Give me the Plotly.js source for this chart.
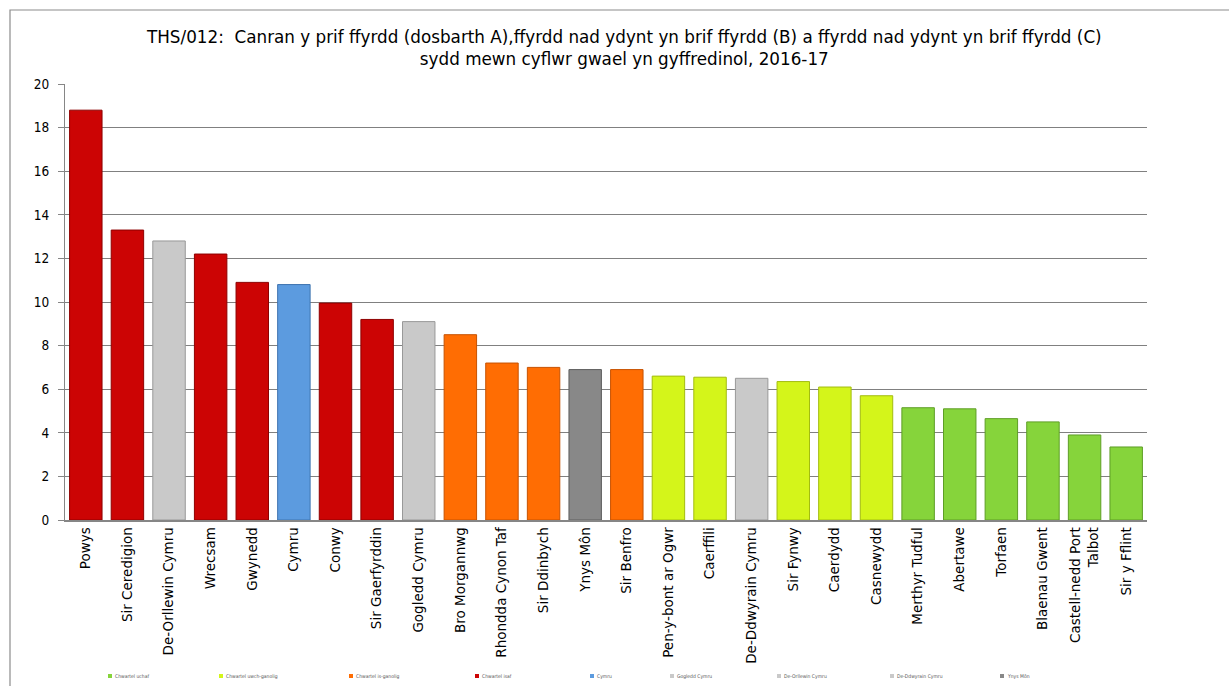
<!DOCTYPE html>
<html>
<head>
<meta charset="utf-8">
<script src="https://cdn.plot.ly/plotly-3.0.1.min.js"></script>
<style>
html,body{margin:0;padding:0;background:#fff;}
#chart{width:1229px;height:686px;}
</style>
</head>
<body>
<div id="chart"></div>
<script>
// Data
const categories = ["Powys","Sir Ceredigion","De-Orllewin Cymru","Wrecsam","Gwynedd","Cymru","Conwy","Sir Gaerfyrddin","Gogledd Cymru","Bro Morgannwg","Rhondda Cynon Taf","Sir Ddinbych","Ynys Môn","Sir Benfro","Pen-y-bont ar Ogwr","Caerffili","De-Ddwyrain Cymru","Sir Fynwy","Caerdydd","Casnewydd","Merthyr Tudful","Abertawe","Torfaen","Blaenau Gwent","Castell-nedd Port<br>Talbot","Sir y Fflint"];
const values = [18.8,13.3,12.8,12.2,10.9,10.8,9.95,9.2,9.1,8.5,7.2,7.0,6.9,6.9,6.6,6.55,6.5,6.35,6.1,5.7,5.15,5.1,4.65,4.5,3.9,3.35];
const groupOfCategory = ["isaf","isaf","deorllewin","isaf","isaf","cymru","isaf","isaf","gogledd","isganolig","isganolig","isganolig","ynysmon","isganolig","uwchganolig","uwchganolig","deddwyrain","uwchganolig","uwchganolig","uwchganolig","uchaf","uchaf","uchaf","uchaf","uchaf","uchaf"];
const groupKeys = ["uchaf","uwchganolig","isganolig","isaf","cymru","gogledd","deorllewin","deddwyrain","ynysmon"];
const groupNames = ["Chwartel uchaf","Chwartel uwch-ganolig","Chwartel is-ganolig","Chwartel isaf","Cymru","Gogledd Cymru","De-Orllewin Cymru","De-Ddwyrain Cymru","Ynys Môn"];
const yTicks = [0,2,4,6,8,10,12,14,16,18,20];
const titleText = "THS/012:  Canran y prif ffyrdd (dosbarth A),ffyrdd nad ydynt yn brif ffyrdd (B) a ffyrdd nad ydynt yn brif ffyrdd (C)<br>sydd mewn cyflwr gwael yn gyffredinol, 2016-17";

// Styles
const fills = {uchaf:"#86D43B",uwchganolig:"#D4F51A",isganolig:"#FF6D03",isaf:"#CC0404",cymru:"#5C9BDF",gogledd:"#C9C9C9",deorllewin:"#C9C9C9",deddwyrain:"#C9C9C9",ynysmon:"#888888"};
const edges = {uchaf:"#5E9E26",uwchganolig:"#A3BC10",isganolig:"#C75200",isaf:"#8E0000",cymru:"#3F74B0",gogledd:"#999999",deorllewin:"#999999",deddwyrain:"#999999",ynysmon:"#5E5E5E"};
const legendMarkerX = [108,219,349,475,590,670,777,890,1000];

const traces = groupKeys.map((k,gi) => {
  const xs=[], ys=[];
  categories.forEach((c,i)=>{ if(groupOfCategory[i]===k){xs.push(c);ys.push(values[i]);} });
  return {
    type:"bar", name:groupNames[gi], x:xs, y:ys,
    marker:{color:fills[k], line:{color:edges[k], width:1}},
    hoverinfo:"x+y", showlegend:false
  };
});

const plotTop=84, plotBottom=520, plotLeft=65, plotRight=1147;
const W=1229,H=686;
const ph = plotBottom-plotTop, pw = plotRight-plotLeft;
const px = v => (v-plotLeft)/pw;
const py = v => (plotBottom-v)/ph;

const shapes = [
  {type:"rect", xref:"paper", yref:"paper", x0:px(10), x1:px(1260), y0:py(720), y1:py(10), line:{color:"#8C8C8C", width:1.2}, fillcolor:"rgba(0,0,0,0)", layer:"below"}
];
const annotations = [];
groupKeys.forEach((k,gi)=>{
  const x0 = legendMarkerX[gi];
  shapes.push({type:"rect", xref:"paper", yref:"paper", x0:px(x0), x1:px(x0+4), y0:py(678), y1:py(674), fillcolor:fills[k], line:{width:0}});
  annotations.push({xref:"paper", yref:"paper", x:px(x0+5), y:py(676), xanchor:"left", yanchor:"middle", showarrow:false, text:groupNames[gi], font:{size:5, color:"#555", family:"DejaVu Sans Condensed, sans-serif"}});
});

const layout = {
  width:W, height:H,
  margin:{l:plotLeft, r:W-plotRight, t:plotTop, b:H-plotBottom, pad:0},
  paper_bgcolor:"#ffffff", plot_bgcolor:"#ffffff",
  barmode:"overlay", bargap:0.22,
  font:{family:"DejaVu Sans, Verdana, sans-serif", color:"#000"},
  title:{text:titleText, font:{size:16.8, family:"DejaVu Sans, sans-serif", color:"#000"}, x:0.508, xanchor:"center", y:1-43/H, yanchor:"middle"},
  xaxis:{
    type:"category", categoryorder:"array", categoryarray:categories,
    tickangle:-90, tickfont:{size:13.5, family:"DejaVu Sans, sans-serif", color:"#000"},
    showline:true, linecolor:"#868686", linewidth:1.5, ticks:"", showgrid:false,
    automargin:false
  },
  yaxis:{
    range:[0,20], tickvals:yTicks, ticktext:yTicks.map(String),
    tickfont:{size:13.5, family:"DejaVu Sans Condensed, DejaVu Sans, sans-serif", color:"#000"},
    showgrid:true, gridcolor:"#808080", gridwidth:1.3,
    showline:true, linecolor:"#868686", linewidth:1.2,
    ticks:"outside", ticklen:6, tickcolor:"#868686", ticklabelstandoff:6,
    zeroline:false, automargin:false, fixedrange:true
  },
  showlegend:false,
  shapes:shapes,
  annotations:annotations
};

Plotly.newPlot("chart", traces, layout, {displayModeBar:false});
</script>
</body>
</html>
